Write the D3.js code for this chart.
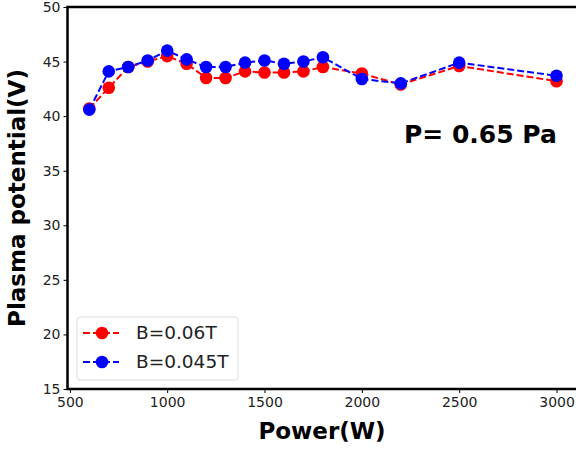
<!DOCTYPE html>
<html>
<head>
<meta charset="utf-8">
<script src="https://cdn.jsdelivr.net/npm/d3@7"></script>
<style>
  body { margin: 0; background: #fff; }
  svg { display: block; font-family: "DejaVu Sans", sans-serif; }
</style>
</head>
<body>
<svg id="chart" width="576" height="450"></svg>
<script>
    // values
    var power = [600, 700, 800, 900, 1000, 1100, 1200, 1300, 1400, 1500, 1600, 1700, 1800, 2000, 2200, 2500, 3000];
    var potB06 = [40.7, 42.6, 44.5, 45.0, 45.5, 44.8, 43.5, 43.5, 44.1, 44.0, 44.0, 44.1, 44.5, 43.9, 42.9, 44.6, 43.2];
    var potB045 = [40.6, 44.1, 44.5, 45.1, 46.0, 45.2, 44.5, 44.5, 44.9, 45.1, 44.8, 45.0, 45.4, 43.4, 43.0, 44.9, 43.7];
    var xTicks = [500, 1000, 1500, 2000, 2500, 3000];
    var yTicks = [15, 20, 25, 30, 35, 40, 45, 50];
    var seriesNames = ["B=0.06T", "B=0.045T"];
    var seriesColors = ["#ff0000", "#0000ff"];

    var svg = d3.select("#chart");
    var pLeft = 67.5, pRight = 576, pTop = 7, pBottom = 389;

    var x = d3.scaleLinear().domain([488, 3100]).range([pLeft, pRight]);
    var y = d3.scaleLinear().domain([15, 50]).range([pBottom, pTop]);

    // axes
    var xAxis = svg.append("g")
        .attr("transform", "translate(0," + pBottom + ")")
        .call(d3.axisBottom(x).tickValues(xTicks).tickSize(4).tickPadding(4).tickFormat(d3.format("d")));
    var yAxis = svg.append("g")
        .attr("transform", "translate(" + pLeft + ",0)")
        .call(d3.axisLeft(y).tickValues(yTicks).tickSize(4).tickPadding(3).tickFormat(d3.format("d")));

    [xAxis, yAxis].forEach(function (g) {
        g.select(".domain").remove();
        g.selectAll("text").attr("font-size", 14).attr("fill", "#222").attr("font-family", "DejaVu Sans, sans-serif");
        g.selectAll("line").attr("stroke", "#000").attr("stroke-width", 1);
    });

    // frame
    svg.append("rect")
        .attr("x", pLeft).attr("y", pTop)
        .attr("width", pRight - pLeft + 10).attr("height", pBottom - pTop)
        .attr("fill", "none").attr("stroke", "#000").attr("stroke-width", 2.5);

    var plot = svg.append("g");
    var line = d3.line().x(function (d) { return x(d[0]); }).y(function (d) { return y(d[1]); });

    [potB06, potB045].forEach(function (vals, k) {
        var pts = power.map(function (p, i) { return [p, vals[i]]; });
        plot.append("path")
            .datum(pts)
            .attr("d", line)
            .attr("fill", "none")
            .attr("stroke", seriesColors[k])
            .attr("stroke-width", 2)
            .attr("stroke-dasharray", "7,3");
        plot.selectAll(".m" + k)
            .data(pts)
            .enter()
            .append("circle")
            .attr("cx", function (d) { return x(d[0]); })
            .attr("cy", function (d) { return y(d[1]); })
            .attr("r", 6.3)
            .attr("fill", seriesColors[k]);
    });

    // annotation
    svg.append("text")
        .attr("x", 404).attr("y", 143)
        .attr("font-size", 25).attr("font-weight", "bold")
        .text("P= 0.65 Pa");

    // axis labels
    svg.append("text")
        .attr("x", 322).attr("y", 439)
        .attr("text-anchor", "middle")
        .attr("font-size", 23).attr("font-weight", "bold")
        .text("Power(W)");
    svg.append("text")
        .attr("transform", "translate(25," + ((pTop + pBottom) / 2) + ") rotate(-90)")
        .attr("text-anchor", "middle")
        .attr("font-size", 23).attr("font-weight", "bold")
        .text("Plasma potential(V)");

    // legend
    var lg = svg.append("g").attr("transform", "translate(77,317)");
    lg.append("rect")
        .attr("width", 161).attr("height", 63).attr("rx", 3)
        .attr("fill", "#fff").attr("fill-opacity", 0.8)
        .attr("stroke", "#ddd");
    seriesNames.forEach(function (name, k) {
        var yy = 16 + k * 29;
        lg.append("line")
            .attr("x1", 6).attr("x2", 42).attr("y1", yy).attr("y2", yy)
            .attr("stroke", seriesColors[k]).attr("stroke-width", 2)
            .attr("stroke-dasharray", "7,3");
        lg.append("circle").attr("cx", 25).attr("cy", yy).attr("r", 6.3).attr("fill", seriesColors[k]);
        lg.append("text")
            .attr("x", 59).attr("y", yy + 6)
            .attr("font-size", 18.5).attr("fill", "#222")
            .text(name);
    });
</script>
</body>
</html>
